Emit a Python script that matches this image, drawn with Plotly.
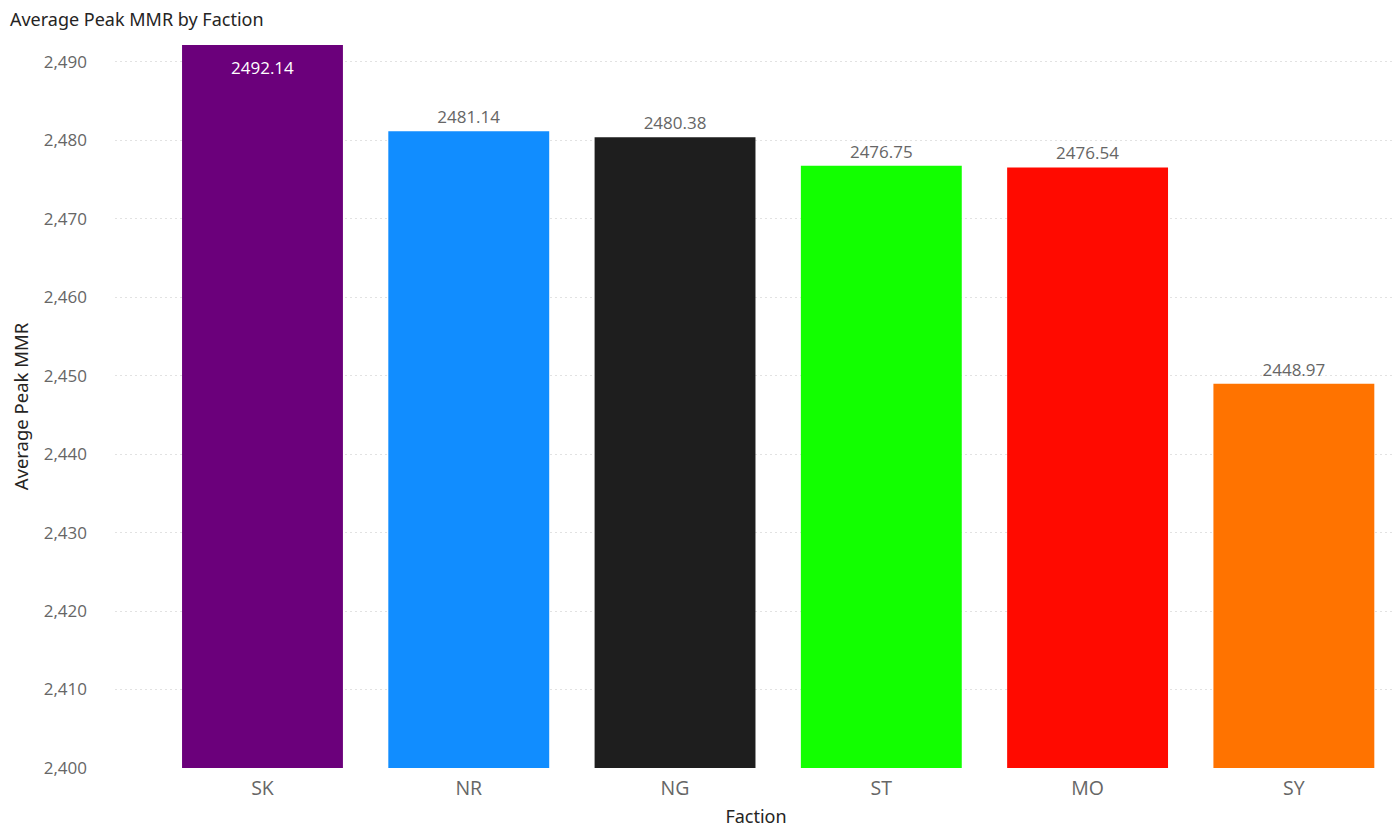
import plotly.graph_objects as go

factions = ["SK", "NR", "NG", "ST", "MO", "SY"]
avg_peak_mmr = [2492.14, 2481.14, 2480.38, 2476.75, 2476.54, 2448.97]
bar_colors = ["#6B007B", "#118DFF", "#1E1E1E", "#12FF00", "#FF0A00", "#FF7300"]
inside_label = [True, False, False, False, False, False]
y_ticks = list(range(2400, 2491, 10))

labels = [f"{v:.2f}" for v in avg_peak_mmr]

fig = go.Figure(
    go.Bar(
        x=factions,
        y=avg_peak_mmr,
        marker=dict(color=bar_colors, line=dict(width=0)),
        text=["" if ins else t for t, ins in zip(labels, inside_label)],
        textposition="outside",
        textfont=dict(family="Open Sans, sans-serif", size=17, color="#666666"),
        cliponaxis=False,
        hoverinfo="x+y",
    )
)

for f, v, t, ins in zip(factions, avg_peak_mmr, labels, inside_label):
    if ins:
        fig.add_annotation(
            x=f, y=v, text=t, showarrow=False, yanchor="top", yshift=-9,
            font=dict(family="Open Sans, sans-serif", size=17, color="#FFFFFF"),
        )

fig.update_layout(
    width=1400,
    height=840,
    paper_bgcolor="white",
    plot_bgcolor="white",
    separators=".,",
    bargap=0.22,
    margin=dict(l=107, r=11, t=37, b=80),
    showlegend=False,
    title=dict(
        text="Average Peak MMR by Faction",
        x=0.0014,
        xanchor="left",
        y=0.9857,
        yanchor="middle",
        font=dict(family="Noto Sans, sans-serif", size=18, color="#252423"),
    ),
    xaxis=dict(
        range=[-0.715, 5.5],
        showgrid=False,
        showline=False,
        zeroline=False,
        ticks="",
        ticklabelstandoff=6,
        tickfont=dict(family="Open Sans, sans-serif", size=19.5, color="#666666"),
        title=dict(text="Faction", font=dict(family="Noto Sans, sans-serif", size=18, color="#252423"), standoff=10),
    ),
    yaxis=dict(
        range=[2400, 2492.14],
        tickvals=y_ticks,
        tickformat=",d",
        showgrid=True,
        gridcolor="#E2E2E2",
        griddash="2px,3px",
        gridwidth=1,
        showline=False,
        zeroline=False,
        ticks="",
        ticklabelstandoff=27,
        tickfont=dict(family="Open Sans, sans-serif", size=17, color="#666666"),
        title=dict(text="Average Peak MMR", font=dict(family="Noto Sans, sans-serif", size=18.5, color="#252423"), standoff=11),
    ),
)

fig.write_html("out.html")
